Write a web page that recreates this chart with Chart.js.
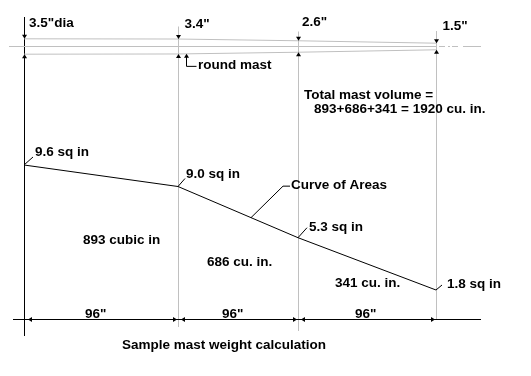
<!DOCTYPE html>
<html><head><meta charset="utf-8">
<script src="https://cdn.jsdelivr.net/npm/chart.js@4/dist/chart.umd.min.js"></script>
<style>html,body{margin:0;padding:0;background:#fff;overflow:hidden}canvas{display:block}</style>
</head><body><canvas id="c" width="531" height="376"></canvas>
<script>
// ---- data ----
const stationPos = [0, 154, 274, 412];            // drawing units along the mast (not to scale)
const diameters = [3.5, 3.4, 2.6, 1.5];           // inches
const diameterLabels = ['3.5"dia', '3.4"', '2.6"', '1.5"'];
const areas = [9.6, 9.0, 5.3, 1.8];               // sq in
const areaLabels = ['9.6 sq in', '9.0 sq in', '5.3 sq in', '1.8 sq in'];
const curveHeights = [154, 132.5, 81.3, 29];      // drawn height of the curve of areas
const segmentLengths = ['96"', '96"', '96"'];
const segmentVolumes = [893, 686, 341];
const volumeLabels = ['893 cubic in', '686 cu. in.', '341 cu. in.'];
const totalLines = ['Total mast volume =', '893+686+341 = 1920 cu. in.'];
const caption = 'Sample mast weight calculation';

const mastAxis = 272.5;   // height of the mast centreline in the drawing
const halfScale = 2.2;    // drawing units per inch of radius

const GRAY = '#c0c0c0';
const FONT = 'bold 13.5px "Liberation Sans", Arial, sans-serif';

const upper = stationPos.map((x, i) => ({x, y: mastAxis + diameters[i] * halfScale}));
const lower = stationPos.map((x, i) => ({x, y: mastAxis - diameters[i] * halfScale}));
const curve = stationPos.map((x, i) => ({x, y: curveHeights[i]}));

function interp(pts, x) {
  for (let i = 0; i < pts.length - 1; i++) {
    if (x >= pts[i].x && x <= pts[i + 1].x) {
      const t = (x - pts[i].x) / (pts[i + 1].x - pts[i].x);
      return pts[i].y + t * (pts[i + 1].y - pts[i].y);
    }
  }
  return pts[pts.length - 1].y;
}

const crisp = p => Math.floor(p) + 0.5;

const drawing = {
  id: 'drawing',
  beforeDatasetsDraw(chart) {
    const ctx = chart.ctx, xs = chart.scales.x, ys = chart.scales.y;
    const X = v => xs.getPixelForValue(v), Y = v => ys.getPixelForValue(v);
    ctx.save();
    ctx.lineWidth = 1;
    // station lines
    const tops = [302, 292.5, 287.5, 288];
    const bottoms = [-17, -8, -12, 0];
    stationPos.forEach((s, i) => {
      ctx.strokeStyle = i === 0 ? '#000' : GRAY;
      const x = crisp(X(s));
      ctx.beginPath(); ctx.moveTo(x, Y(tops[i])); ctx.lineTo(x, Y(bottoms[i])); ctx.stroke();
    });
    // centreline dash-dot extension beyond the tip
    ctx.strokeStyle = GRAY;
    const yC = Y(mastAxis);
    const last = stationPos[stationPos.length - 1];
    [[3, 9], [12, 14], [16, 22], [27, 45]].forEach(([a, b]) => {
      ctx.beginPath(); ctx.moveTo(X(last) + a, yC); ctx.lineTo(X(last) + b, yC); ctx.stroke();
    });
    ctx.restore();
  },
  afterDatasetsDraw(chart) {
    const ctx = chart.ctx, xs = chart.scales.x, ys = chart.scales.y;
    const X = v => xs.getPixelForValue(v), Y = v => ys.getPixelForValue(v);
    ctx.save();
    ctx.fillStyle = '#000'; ctx.strokeStyle = '#000'; ctx.lineWidth = 1;
    const tri = (x, y, dir) => {
      ctx.beginPath();
      if (dir === 'down') { ctx.moveTo(x, y); ctx.lineTo(x - 2.5, y - 4); ctx.lineTo(x + 2.5, y - 4); }
      if (dir === 'up') { ctx.moveTo(x, y); ctx.lineTo(x - 2.5, y + 4); ctx.lineTo(x + 2.5, y + 4); }
      if (dir === 'left') { ctx.moveTo(x, y); ctx.lineTo(x + 4, y - 2.5); ctx.lineTo(x + 4, y + 2.5); }
      if (dir === 'right') { ctx.moveTo(x, y); ctx.lineTo(x - 4, y - 2.5); ctx.lineTo(x - 4, y + 2.5); }
      ctx.closePath(); ctx.fill();
    };
    const line = pts => {
      ctx.beginPath(); ctx.moveTo(pts[0][0], pts[0][1]);
      pts.slice(1).forEach(p => ctx.lineTo(p[0], p[1])); ctx.stroke();
    };
    // diameter arrows on the mast outline
    stationPos.forEach((s, i) => {
      const x = crisp(X(s));
      tri(x, Y(upper[i].y), 'down');
      tri(x, Y(lower[i].y), 'up');
    });
    // round mast leader
    const rmX = 162;
    const rx = crisp(X(rmX)), ry = Y(interp(lower, rmX));
    tri(rx, ry, 'up');
    line([[rx, ry + 2], [rx, ry + 12.5], [rx + 10, ry + 12.5]]);

    ctx.font = FONT;
    ctx.textBaseline = 'alphabetic';
    ctx.fillText('round mast', rx + 11.5, ry + 15.5);

    // diameter labels
    const dDx = [5, 6.6, 4, 6.6], dDy = [-12, -11.3, -15, -13.2];
    diameterLabels.forEach((t, i) => {
      ctx.fillText(t, X(stationPos[i]) + dDx[i], Y(upper[i].y) + dDy[i]);
    });

    // area labels with leaders
    const aDx = [11, 8, 11, 11], aDy = [-9.3, -8.8, -7, -2];
    const lDx = [9, 7, 9, 6], lDy = [-8, -8, -10, -5];
    areaLabels.forEach((t, i) => {
      const px = X(stationPos[i]), py = Y(curveHeights[i]);
      line([[px, py], [px + lDx[i], py + lDy[i]]]);
      ctx.fillText(t, px + aDx[i], py + aDy[i]);
    });

    // curve of areas leader
    const cx = 227, cpx = X(cx), cpy = Y(interp(curve, cx));
    line([[cpx, cpy], [cpx + 32, cpy - 31.5], [cpx + 39, cpy - 31.5]]);
    ctx.fillText('Curve of Areas', cpx + 40, cpy - 29);

    // volume labels
    const vDx = [59, 29, 37], vY = [75, 53, 32.3];
    volumeLabels.forEach((t, i) => ctx.fillText(t, X(stationPos[i]) + vDx[i], Y(vY[i])));

    // total
    ctx.fillText(totalLines[0], 304, 98.7);
    ctx.fillText(totalLines[1], 314, 113);

    // bottom dimension line
    const yD = crisp(Y(0));
    line([[13, yD], [481, yD]]);
    for (let i = 0; i < stationPos.length - 1; i++) {
      tri(X(stationPos[i]) + (i === 0 ? 4 : 3), yD, 'left');
      tri(X(stationPos[i + 1]) - 1, yD, 'right');
    }
    const sX = [85, 222, 355];
    segmentLengths.forEach((t, i) => ctx.fillText(t, sX[i], yD - 1.5));

    ctx.fillText(caption, 122, 349);
    ctx.restore();
  }
};

new Chart(document.getElementById('c'), {
  type: 'line',
  data: {
    datasets: [
      {data: curve, borderColor: '#000', borderWidth: 1, pointRadius: 0, tension: 0},
      {data: upper, borderColor: GRAY, borderWidth: 1, pointRadius: 0},
      {data: lower, borderColor: GRAY, borderWidth: 1, pointRadius: 0},
      {data: [{x: -15, y: mastAxis}, {x: stationPos[stationPos.length - 1], y: mastAxis}], borderColor: GRAY, borderWidth: 1, pointRadius: 0}
    ]
  },
  options: {
    responsive: false,
    animation: false,
    devicePixelRatio: 1,
    layout: {padding: 0},
    plugins: {legend: {display: false}, tooltip: {enabled: false}, title: {display: false}},
    scales: {
      x: {type: 'linear', min: -24, max: 507, display: false},
      y: {type: 'linear', min: -57, max: 319, display: false}
    }
  },
  plugins: [drawing]
});
</script>
</body></html>
